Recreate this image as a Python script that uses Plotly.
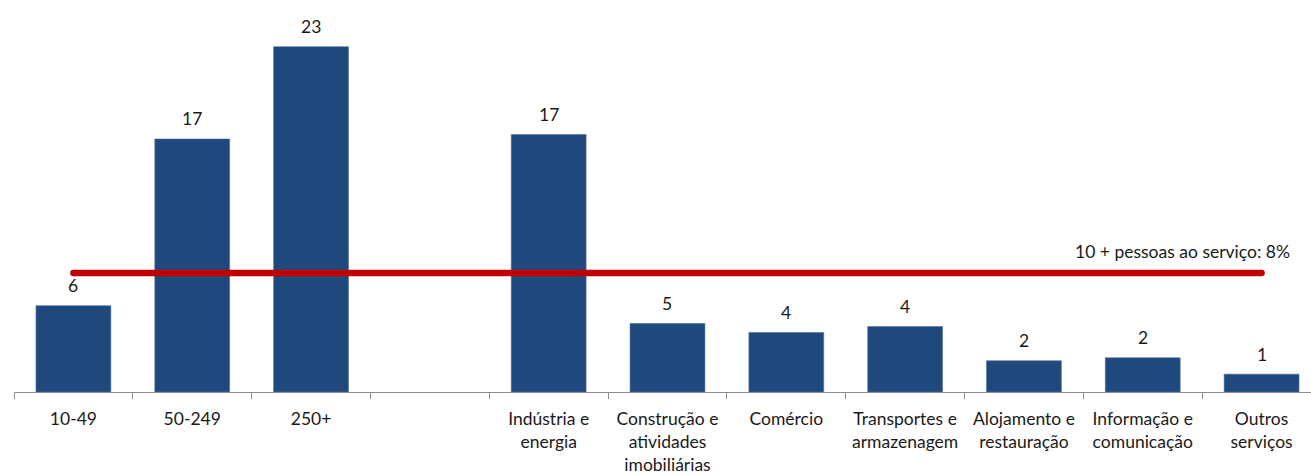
import plotly.graph_objects as go

# Categories: company size classes, a blank spacer, then economic sectors
categories = [
    "10-49", "50-249", "250+", " ",
    "Indústria e<br>energia",
    "Construção e<br>atividades<br>imobiliárias",
    "Comércio",
    "Transportes e<br>armazenagem",
    "Alojamento e<br>restauração",
    "Informação e<br>comunicação",
    "Outros<br>serviços",
]
values = [5.8, 17.0, 23.2, None, 17.3, 4.6, 4.0, 4.4, 2.1, 2.3, 1.2]

# Reference line: share for all companies with 10+ persons employed
overall_value = 8.0
overall_label = "10 + pessoas ao serviço: 8%"

BAR_COLOR = "#1F497D"
LINE_COLOR = "#C00000"
FONT = "Lato, 'Open Sans', sans-serif"
TEXT_SIZE = 17.5

fig = go.Figure()

fig.add_trace(go.Bar(
    x=categories,
    y=values,
    marker=dict(color=BAR_COLOR, line=dict(color="#4F6F9A", width=0.6)),
    hoverinfo="skip",
))

fig.add_trace(go.Scatter(
    x=[categories[0], categories[-1]],
    y=[overall_value, overall_value],
    mode="lines+markers",
    line=dict(color=LINE_COLOR, width=6.5),
    marker=dict(color=LINE_COLOR, size=6.5, line=dict(width=0)),
    hoverinfo="skip",
))

# Value labels above the bars
for cat, v in zip(categories, values):
    if v is None:
        continue
    fig.add_annotation(
        x=cat, y=v, text=f"{v:.0f}", showarrow=False,
        yanchor="middle", yshift=20,
        font=dict(family=FONT, size=TEXT_SIZE, color="#1a1a1a"),
    )

fig.add_annotation(
    x=10.26, y=overall_value, xref="x", yref="y",
    text=overall_label, showarrow=False,
    xanchor="right", yanchor="middle", yshift=21,
    font=dict(family=FONT, size=TEXT_SIZE, color="#1a1a1a"),
)

plot_h = 394
px_per_unit = 14.96

fig.update_layout(
    width=1311, height=475,
    margin=dict(l=14, r=0, t=0, b=475 - plot_h),
    plot_bgcolor="white", paper_bgcolor="white",
    showlegend=False,
    bargap=0.37,
    font=dict(family=FONT, size=TEXT_SIZE, color="#1a1a1a"),
    xaxis=dict(
        type="category",
        range=[-0.5, 10.416],
        showline=True, linecolor="#8c8c8c", linewidth=1.3,
        ticks="outside", tickson="boundaries", ticklen=6, tickcolor="#8c8c8c",
        tickwidth=1.3, ticklabelstandoff=11,
        showgrid=False, zeroline=False,
        tickfont=dict(family=FONT, size=TEXT_SIZE, color="#1a1a1a"),
    ),
    yaxis=dict(
        range=[0, plot_h / px_per_unit],
        visible=False, showgrid=False, zeroline=False,
    ),
)

fig.write_html("out.html")
